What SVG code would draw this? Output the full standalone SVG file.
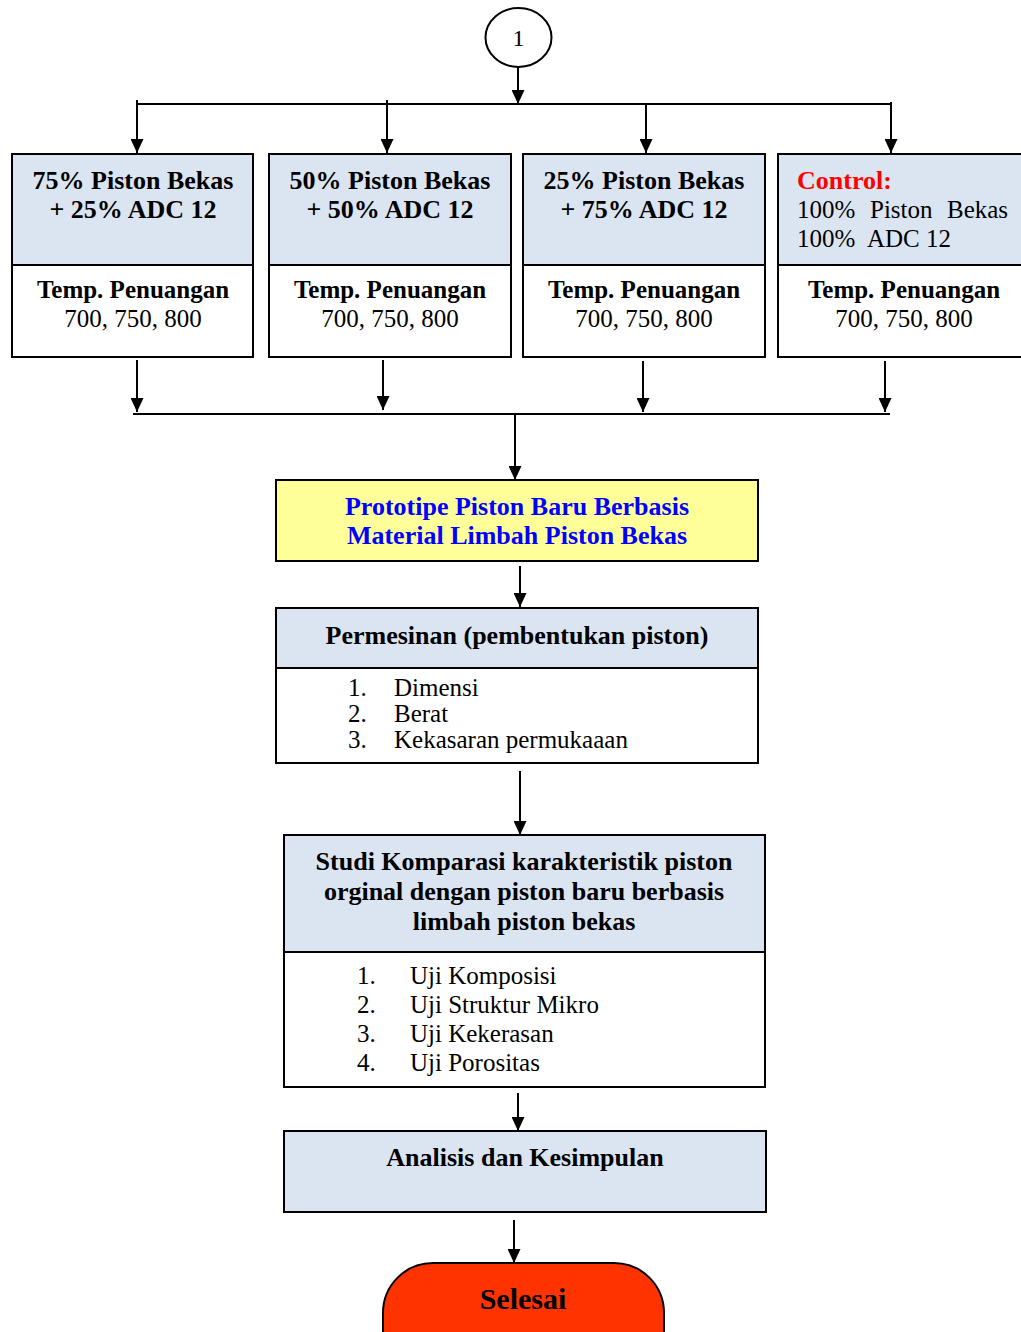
<svg xmlns="http://www.w3.org/2000/svg" width="1021" height="1332" viewBox="0 0 1021 1332">
<defs>
<marker id="ah" viewBox="0 0 14 13" refX="14" refY="6.5" markerWidth="14" markerHeight="13" orient="auto" markerUnits="userSpaceOnUse"><path d="M0,0 L14,6.5 L0,13 z" fill="#000"/></marker>
<style>
.box{stroke:#000;stroke-width:2;}
.blue{fill:#DBE5F1;}
.white{fill:#fff;}
.ln{stroke:#000;stroke-width:2;fill:none;}
.ar{stroke:#000;stroke-width:2;fill:none;marker-end:url(#ah);}
text{font-family:"Liberation Serif","Times New Roman",serif;fill:#000;}
.b{font-weight:bold;font-size:26px;}
.r{font-size:25px;}
.t{font-weight:bold;font-size:25px;}
.c{text-anchor:middle;}
</style>
</defs>
<rect width="1021" height="1332" fill="#fff"/>

<g id="connectors">
<line class="ar" x1="518" y1="67" x2="518" y2="104"/>
<line class="ln" x1="137" y1="104" x2="891" y2="104"/>
<line class="ar" x1="137" y1="100" x2="137" y2="153"/>
<line class="ar" x1="387" y1="100" x2="387" y2="153"/>
<line class="ar" x1="646" y1="104" x2="646" y2="153"/>
<line class="ar" x1="891" y1="102" x2="891" y2="153"/>
<line class="ar" x1="137" y1="360" x2="137" y2="412"/>
<line class="ar" x1="383" y1="360" x2="383" y2="410"/>
<line class="ar" x1="643" y1="361" x2="643" y2="412"/>
<line class="ar" x1="885" y1="361" x2="885" y2="412"/>
<line class="ln" x1="133" y1="414" x2="890" y2="414"/>
<line class="ar" x1="515" y1="414" x2="515" y2="480"/>
<line class="ar" x1="520" y1="566" x2="520" y2="607"/>
<line class="ar" x1="520" y1="771" x2="520" y2="835"/>
<line class="ar" x1="518" y1="1093" x2="518" y2="1131"/>
<line class="ar" x1="514" y1="1220" x2="514" y2="1263"/>
</g>

<g id="start">
<ellipse cx="518.5" cy="37.5" rx="33" ry="29.5" fill="#fff" stroke="#000" stroke-width="2"/>
<text x="518.5" y="46" class="c" font-size="24">1</text>
</g>

<g id="box1">
<rect class="box blue" x="12" y="154" width="241" height="111"/>
<rect class="box white" x="12" y="265" width="241" height="92"/>
<text class="b c" x="133" y="189">75% Piston Bekas</text>
<text class="b c" x="133" y="218">+ 25% ADC 12</text>
<text class="t c" x="133" y="298">Temp. Penuangan</text>
<text class="r c" x="133" y="327">700, 750, 800</text>
</g>

<g id="box2">
<rect class="box blue" x="269" y="154" width="242" height="111"/>
<rect class="box white" x="269" y="265" width="242" height="92"/>
<text class="b c" x="390" y="189">50% Piston Bekas</text>
<text class="b c" x="390" y="218">+ 50% ADC 12</text>
<text class="t c" x="390" y="298">Temp. Penuangan</text>
<text class="r c" x="390" y="327">700, 750, 800</text>
</g>

<g id="box3">
<rect class="box blue" x="523" y="154" width="242" height="111"/>
<rect class="box white" x="523" y="265" width="242" height="92"/>
<text class="b c" x="644" y="189">25% Piston Bekas</text>
<text class="b c" x="644" y="218">+ 75% ADC 12</text>
<text class="t c" x="644" y="298">Temp. Penuangan</text>
<text class="r c" x="644" y="327">700, 750, 800</text>
</g>

<g id="box4">
<rect class="box blue" x="778" y="154" width="260" height="111"/>
<rect class="box white" x="778" y="265" width="260" height="92"/>
<text class="b" x="797" y="189" style="fill:#FF0000">Control:</text>
<text class="r" x="797" y="218">100%</text>
<text class="r" x="870" y="218">Piston</text>
<text class="r" x="947" y="218">Bekas</text>
<text class="r" x="797" y="247">100%</text>
<text class="r" x="867" y="247">ADC 12</text>
<text class="t c" x="904" y="298">Temp. Penuangan</text>
<text class="r c" x="904" y="327">700, 750, 800</text>
</g>

<g id="prototipe">
<rect class="box" x="276" y="480" width="482" height="81" fill="#FFFF99"/>
<text class="b c" x="517" y="515" style="fill:#0000FF">Prototipe Piston Baru Berbasis</text>
<text class="b c" x="517" y="544" style="fill:#0000FF">Material Limbah Piston Bekas</text>
</g>

<g id="permesinan">
<rect class="box blue" x="276" y="608" width="482" height="60"/>
<rect class="box white" x="276" y="668" width="482" height="95"/>
<text class="b c" x="517" y="644">Permesinan (pembentukan piston)</text>
<text class="r" x="348" y="696">1.</text>
<text class="r" x="394" y="696">Dimensi</text>
<text class="r" x="348" y="722">2.</text>
<text class="r" x="394" y="722">Berat</text>
<text class="r" x="348" y="748">3.</text>
<text class="r" x="394" y="748">Kekasaran permukaaan</text>
</g>

<g id="studi">
<rect class="box blue" x="284" y="835" width="481" height="117"/>
<rect class="box white" x="284" y="952" width="481" height="135"/>
<text class="b c" x="524" y="870">Studi Komparasi karakteristik piston</text>
<text class="b c" x="524" y="900">orginal dengan piston baru berbasis</text>
<text class="b c" x="524" y="930">limbah piston bekas</text>
<text class="r" x="357" y="984">1.</text>
<text class="r" x="410" y="984">Uji Komposisi</text>
<text class="r" x="357" y="1013">2.</text>
<text class="r" x="410" y="1013">Uji Struktur Mikro</text>
<text class="r" x="357" y="1042">3.</text>
<text class="r" x="410" y="1042">Uji Kekerasan</text>
<text class="r" x="357" y="1071">4.</text>
<text class="r" x="410" y="1071">Uji Porositas</text>
</g>

<g id="analisis">
<rect class="box blue" x="284" y="1131" width="482" height="81"/>
<text class="b c" x="525" y="1166">Analisis dan Kesimpulan</text>
</g>

<g id="selesai">
<rect class="box" x="383" y="1263" width="281" height="120" rx="50" ry="50" fill="#FF3300"/>
<text class="c" x="523" y="1309" font-weight="bold" font-size="30">Selesai</text>
</g>
</svg>
